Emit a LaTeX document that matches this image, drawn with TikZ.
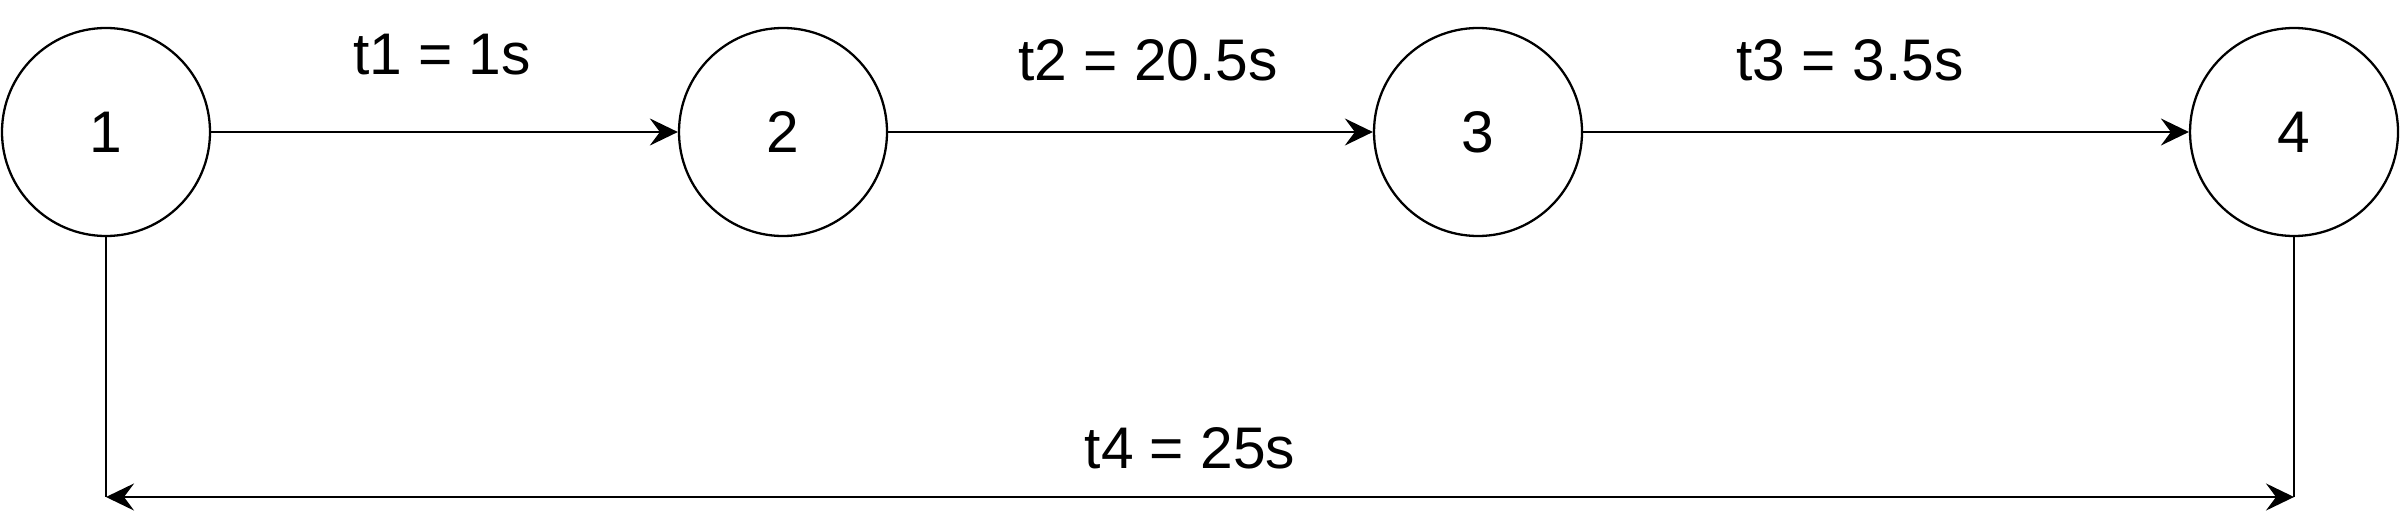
\documentclass[tikz,border=0pt]{standalone}
\usepackage{fontspec}
\setmainfont{Liberation Sans}
\usetikzlibrary{arrows.meta}

\tikzset{tip/.tip={Stealth[length=0.28cm, width=0.27cm, inset=0.1cm]}}

\begin{document}
\begin{tikzpicture}[
    line width=0.65pt,
    state/.style={draw, circle, minimum size=2.08cm, inner sep=0pt, font=\fontsize{16.7}{20}\selectfont},
    lbl/.style={anchor=base, inner sep=0pt, font=\fontsize{16.7}{20}\selectfont},
    arr/.style={-tip},
    darr/.style={tip-tip}
  ]
  \useasboundingbox (0, 0) rectangle (24, 5.25);

  \node[state] (s1) at (1.06, 3.93) {1};
  \node[state] (s2) at (7.83, 3.93) {2};
  \node[state] (s3) at (14.78, 3.93) {3};
  \node[state] (s4) at (22.94, 3.93) {4};

  \draw[arr] (s1) -- (s2);
  \draw[arr] (s2) -- (s3);
  \draw[arr] (s3) -- (s4);

  \node[lbl] (l1) at (4.42, 4.50) {t1 = 1s};
  \node[lbl] (l2) at (11.48, 4.45) {t2 = 20.5s};
  \node[lbl] (l3) at (18.50, 4.45) {t3 = 3.5s};
  \node[lbl] (l4) at (11.90, 0.57) {t4 = 25s};

  \coordinate (b1) at (1.06, 0.28);
  \coordinate (b4) at (22.94, 0.28);
  \draw (s1.south) -- (b1);
  \draw (s4.south) -- (b4);
  \draw[darr] (b1) -- (b4);
\end{tikzpicture}
\end{document}
